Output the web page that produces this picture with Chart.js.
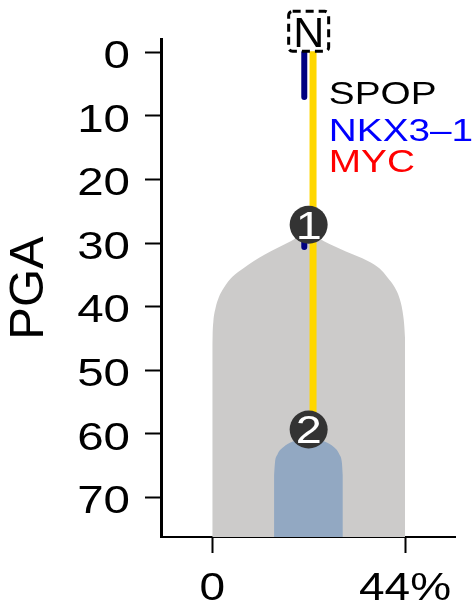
<!DOCTYPE html>
<html>
<head>
<meta charset="utf-8">
<script src="https://cdn.jsdelivr.net/npm/chart.js@4/dist/chart.umd.min.js"></script>
<style>
  html, body { margin: 0; padding: 0; background: #fff; }
  #wrap { width: 474px; height: 607px; }
</style>
</head>
<body>
<div id="wrap"><canvas id="c" width="474" height="607"></canvas></div>
<script>
// ---- data ----
const yTicks = [0, 10, 20, 30, 40, 50, 60, 70];
const xTickValues = [0, 44];
const xTickLabels = ['0', '44%'];
const yMin = -2.1, yMax = 76.2;
const xMin = -11.7, xMax = 55.4;

// clone outlines: x (% cells) and top PGA
const grayCloneX   = [0, 0.05, 0.25, 0.75, 1.5, 2.65, 4.6, 7.2, 12, 17.9, 22, 25.5, 30.5, 35.5, 38.2, 40.0, 41.6, 42.7, 43.4, 43.8, 44];
const grayCloneTop = [46, 44.5, 42.3, 40.2, 38.5, 37.0, 35.3, 33.9, 31.8, 29.7, 28.2, 29.7, 31.3, 32.8, 34.0, 35.4, 36.9, 38.6, 40.6, 42.8, 45];
const blueCloneX   = [14.1, 14.3, 14.9, 16.2, 18.4, 22, 25.6, 27.8, 29.0, 29.6, 29.8];
const blueCloneTop = [66.5, 64.6, 63.2, 62.1, 61.2, 60.8, 61.2, 62.1, 63.2, 64.6, 66.5];

// branches (x position, PGA start/end)
const yellowBranchX = 23, yellowBranchPGA = [-0.3, 59.3];
const navyBranchX = 21, navyBranch1PGA = [0, 7], navyBranch2PGA = [27.1, 30.6];

// nodes
const nodeX = [22, 22];
const nodePGA = [27.1, 59.3];
const nodeLabels = ['1', '2'];

// root
const rootX = 22, rootPGA = -3.3, rootLabel = 'N';

// gene annotations
const geneLabels = ['SPOP', 'NKX3\u20131', 'MYC'];
const geneColors = ['#000000', '#0000ff', '#ff0000'];
const geneX = 26.6;
const genePGA = [6.3, 12.2, 17.0];

const FONT = "'Liberation Sans', Arial, sans-serif";
const SX = 1.25; // horizontal widening of the reference's glyphs

function pts(xs, ys) { return xs.map((x, i) => ({ x: x, y: ys[i] })); }

function wideText(ctx, text, x, yCapCenter, size, sx, align, color) {
  ctx.save();
  ctx.translate(x, yCapCenter);
  ctx.scale(sx, 1);
  ctx.font = size + 'px ' + FONT;
  ctx.fillStyle = color;
  ctx.textAlign = align;
  ctx.textBaseline = 'alphabetic';
  ctx.fillText(text, 0, 0.358 * size);
  ctx.restore();
}

const annot = {
  id: 'annot',
  afterDatasetsDraw(chart) {
    const ctx = chart.ctx;
    const xs = chart.scales.x, ys = chart.scales.y;
    nodeLabels.forEach((t, i) => {
      wideText(ctx, t, xs.getPixelForValue(nodeX[i]), ys.getPixelForValue(nodePGA[i]), 39, 1.2, 'center', '#ffffff');
    });
    geneLabels.forEach((t, i) => {
      wideText(ctx, t, xs.getPixelForValue(geneX), ys.getPixelForValue(genePGA[i]), 31, SX, 'left', geneColors[i]);
    });
    ctx.save();
    const rx = xs.getPixelForValue(rootX), ry = ys.getPixelForValue(rootPGA);
    const s = 40;
    ctx.fillStyle = '#ffffff';
    ctx.strokeStyle = '#000000';
    ctx.lineWidth = 3;
    ctx.setLineDash([8, 5]);
    ctx.beginPath();
    if (ctx.roundRect) ctx.roundRect(rx - s / 2, ry - s / 2, s, s, 4);
    else ctx.rect(rx - s / 2, ry - s / 2, s, s);
    ctx.fill();
    ctx.stroke();
    ctx.setLineDash([]);
    ctx.restore();
    wideText(ctx, rootLabel, rx, ry, 43, 1.0, 'center', '#000000');
  },
  afterDraw(chart) {
    const ctx = chart.ctx;
    const xs = chart.scales.x, ys = chart.scales.y;
    ys.ticks.forEach(t => {
      wideText(ctx, String(t.value), ys.right - 31, ys.getPixelForValue(t.value) + 2, 38, SX, 'right', '#000000');
    });
    xs.ticks.forEach(t => {
      const i = xTickValues.indexOf(t.value);
      if (i < 0) return;
      wideText(ctx, xTickLabels[i], xs.getPixelForValue(t.value), xs.top + 49, 39, 1.18, 'center', '#000000');
    });
  }
};

new Chart(document.getElementById('c'), {
  type: 'line',
  data: {
    datasets: [
      {
        label: 'nodes',
        data: pts(nodeX, nodePGA),
        showLine: false,
        pointRadius: 19,
        pointHoverRadius: 19,
        pointBackgroundColor: '#333333',
        pointBorderWidth: 0,
        order: 0
      },
      {
        label: 'navy1',
        data: pts([navyBranchX, navyBranchX], navyBranch1PGA),
        borderColor: '#000080',
        borderWidth: 6,
        borderCapStyle: 'round',
        pointRadius: 0,
        order: 1
      },
      {
        label: 'navy2',
        data: pts([navyBranchX, navyBranchX], navyBranch2PGA),
        borderColor: '#000080',
        borderWidth: 6,
        borderCapStyle: 'round',
        pointRadius: 0,
        order: 1
      },
      {
        label: 'yellow',
        data: pts([yellowBranchX, yellowBranchX], yellowBranchPGA),
        borderColor: '#ffd700',
        borderWidth: 7,
        borderCapStyle: 'butt',
        pointRadius: 0,
        order: 2
      },
      {
        label: 'blue clone',
        data: pts(blueCloneX, blueCloneTop),
        borderWidth: 0,
        borderColor: 'rgba(0,0,0,0)',
        backgroundColor: '#92a8c2',
        fill: { value: yMax },
        pointRadius: 0,
        cubicInterpolationMode: 'monotone',
        order: 3
      },
      {
        label: 'gray clone',
        data: pts(grayCloneX, grayCloneTop),
        borderWidth: 0,
        borderColor: 'rgba(0,0,0,0)',
        backgroundColor: '#cccbca',
        fill: { value: yMax },
        pointRadius: 0,
        cubicInterpolationMode: 'monotone',
        order: 4
      }
    ]
  },
  options: {
    responsive: false,
    animation: false,
    events: [],
    layout: { padding: { left: 0, right: 18, top: 39, bottom: 0 } },
    plugins: { legend: { display: false }, tooltip: { enabled: false } },
    scales: {
      x: {
        type: 'linear',
        min: xMin, max: xMax,
        afterBuildTicks(scale) { scale.ticks = xTickValues.map(v => ({ value: v })); },
        afterFit(scale) { scale.height = 70; },
        ticks: { display: false, autoSkip: false },
        grid: { display: true, drawOnChartArea: false, drawTicks: true, tickLength: 16, tickWidth: 2, tickColor: '#000' },
        border: { display: true, color: '#000', width: 2 }
      },
      y: {
        type: 'linear',
        reverse: true,
        min: yMin, max: yMax,
        afterBuildTicks(scale) { scale.ticks = yTicks.map(v => ({ value: v })); },
        afterFit(scale) { scale.width = 161; },
        ticks: { display: false, autoSkip: false },
        title: { display: true, text: 'PGA', color: '#000', font: { family: FONT, size: 49 }, padding: 0 },
        grid: { display: true, drawOnChartArea: false, drawTicks: true, tickLength: 16, tickWidth: 2, tickColor: '#000' },
        border: { display: true, color: '#000', width: 3 }
      }
    }
  },
  plugins: [annot]
});
</script>
</body>
</html>
